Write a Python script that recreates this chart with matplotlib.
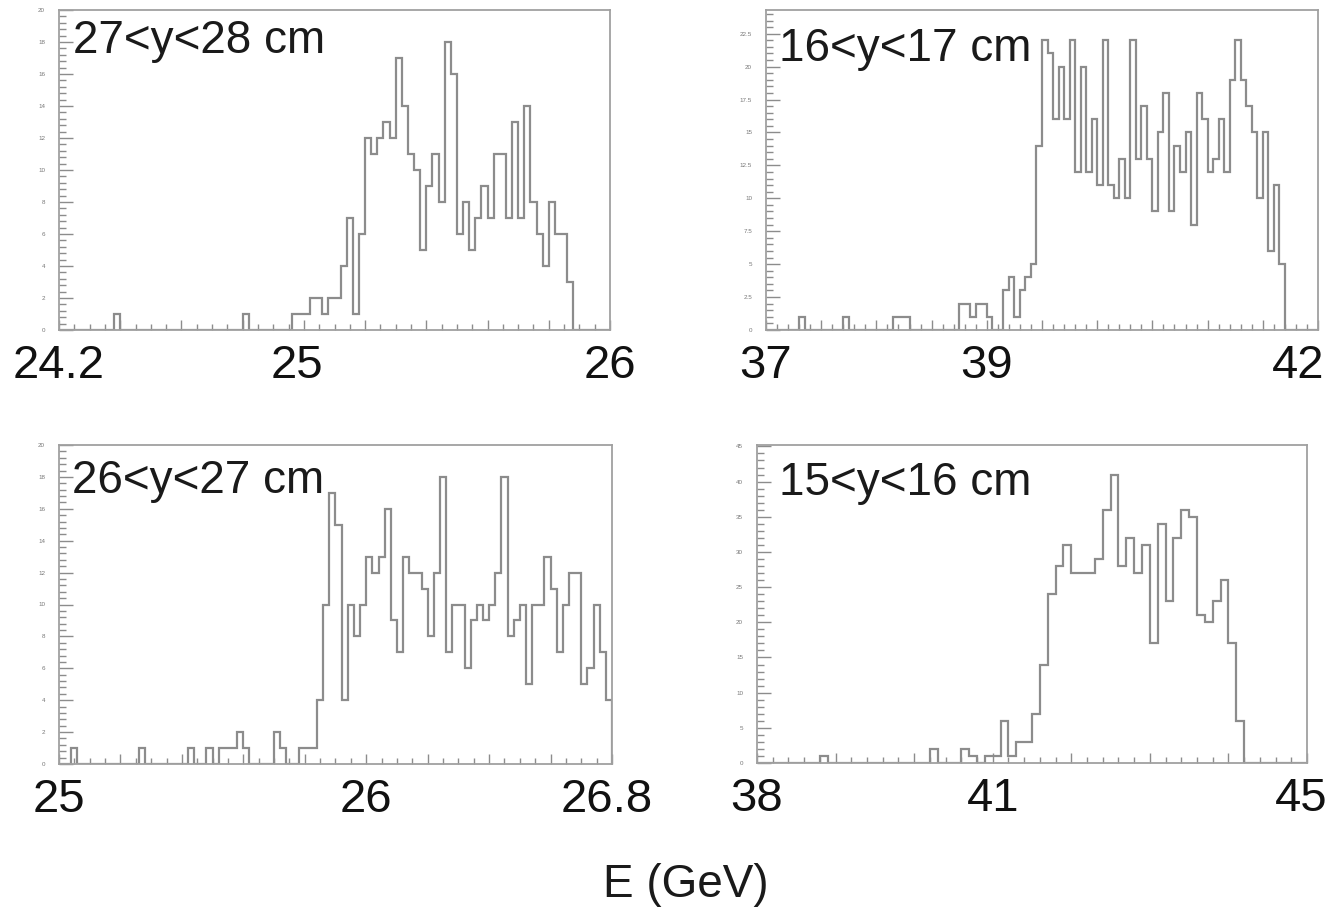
import matplotlib
matplotlib.use('Agg')
import matplotlib.pyplot as plt
from matplotlib.ticker import MultipleLocator, FixedLocator, FuncFormatter
import numpy as np

plt.rcParams['font.family'] = ['Liberation Sans', 'DejaVu Sans']

# energy histograms, one per y slice (bin contents, left to right)
counts_27_28 = [
    0, 0, 0, 0, 0, 0, 0, 0, 0, 1,
    0, 0, 0, 0, 0, 0, 0, 0, 0, 0,
    0, 0, 0, 0, 0, 0, 0, 0, 0, 0,
    1, 0, 0, 0, 0, 0, 0, 0, 1, 1,
    1, 2, 2, 1, 2, 2, 4, 7, 1, 6,
    12, 11, 12, 13, 12, 17, 14, 11, 10, 5,
    9, 11, 8, 18, 16, 6, 8, 5, 7, 9,
    7, 11, 11, 7, 13, 7, 14, 8, 6, 4,
    8, 6, 6, 3, 0, 0, 0, 0, 0, 0,
]
counts_16_17 = [
    0, 0, 0, 0, 0, 0, 1, 0, 0, 0,
    0, 0, 0, 0, 1, 0, 0, 0, 0, 0,
    0, 0, 0, 1, 1, 1, 0, 0, 0, 0,
    0, 0, 0, 0, 0, 2, 2, 1, 2, 2,
    1, 0, 0, 3, 4, 1, 3, 4, 5, 14,
    22, 21, 16, 20, 16, 22, 12, 20, 12, 16,
    11, 22, 11, 10, 13, 10, 22, 13, 17, 13,
    9, 15, 18, 9, 14, 12, 15, 8, 18, 16,
    12, 13, 16, 12, 19, 22, 19, 17, 15, 10,
    15, 6, 11, 5, 0, 0, 0, 0, 0, 0,
]
counts_26_27 = [
    0, 0, 1, 0, 0, 0, 0, 0, 0, 0,
    0, 0, 0, 1, 0, 0, 0, 0, 0, 0,
    0, 1, 0, 0, 1, 0, 1, 1, 1, 2,
    1, 0, 0, 0, 0, 2, 1, 0, 0, 1,
    1, 1, 4, 10, 17, 15, 4, 10, 8, 10,
    13, 12, 13, 16, 9, 7, 13, 12, 12, 11,
    8, 12, 18, 7, 10, 10, 6, 9, 10, 9,
    10, 12, 18, 8, 9, 10, 5, 10, 10, 13,
    11, 7, 10, 12, 12, 5, 6, 10, 7, 4,
]
counts_15_16 = [
    0, 0, 0, 0, 0, 0, 0, 0, 1, 0,
    0, 0, 0, 0, 0, 0, 0, 0, 0, 0,
    0, 0, 2, 0, 0, 0, 2, 1, 0, 1,
    1, 6, 1, 3, 3, 7, 14, 24, 28, 31,
    27, 27, 27, 29, 36, 41, 28, 32, 27, 31,
    17, 34, 23, 32, 36, 35, 21, 20, 23, 26,
    17, 6, 0, 0, 0, 0, 0, 0, 0, 0,
]

slice_names = ['27<y<28 cm', '16<y<17 cm', '26<y<27 cm', '15<y<16 cm']
e_ranges = [(24.2, 26.0), (37.0, 42.0), (25.0, 26.8), (38.0, 45.0)]
e_labels = [[24.2, 25, 26], [37, 39, 42], [25, 26, 26.8], [38, 41, 45]]
y_max = [20, 24.3, 20, 45.2]

W, H = 1339, 911
fig = plt.figure(figsize=(W / 100, H / 100), dpi=100)

# pad boxes in pixels: left, top, right, bottom
boxes = [(59, 10, 610, 330), (766, 10, 1318, 330),
         (59, 445, 612, 764), (757, 445, 1307, 763)]
x_steps = [(0.2, 0.05), (0.5, 0.1), (0.2, 0.05), (1.0, 0.2)]
y_steps = [(2, 0.4), (2.5, 0.5), (2, 0.4), (5, 1)]
text_pos = [(0.026, 0.972), (0.023, 0.946), (0.024, 0.956), (0.040, 0.95)]
# horizontal nudge of the energy numbers, in points
label_dx = [[0, -5, 0], [0, 0, -14], [0, 0, -4], [0, 0, -4]]
all_counts = [counts_27_28, counts_16_17, counts_26_27, counts_15_16]

grey = '#8c8c8c'

for i in range(4):
    l, t, r, b = boxes[i]
    ax = fig.add_axes([l / W, 1 - b / H, (r - l) / W, (b - t) / H])
    lo, hi = e_ranges[i]
    vals = np.array(all_counts[i])
    edges = np.linspace(lo, hi, len(vals) + 1)
    ax.stairs(vals, edges, color=grey, lw=1.6)

    ax.set_xlim(lo, hi)
    ax.set_ylim(0, y_max[i])
    for s in ax.spines.values():
        s.set_color('#a0a0a0')
        s.set_linewidth(1.3)

    # x axis: ticks everywhere, numbers written under a few energies
    maj, mnr = x_steps[i]
    ax.xaxis.set_major_locator(FixedLocator(np.round(np.arange(lo, hi + 1e-6, maj), 4)))
    ax.xaxis.set_minor_locator(MultipleLocator(mnr))
    ax.tick_params(axis='x', which='major', direction='in', length=7, width=1,
                   color=grey, labelbottom=False)
    ax.tick_params(axis='x', which='minor', direction='in', length=4, width=1, color=grey)
    for v, dx in zip(e_labels[i], label_dx[i]):
        ax.annotate('%g' % v, xy=(v, 0), xycoords=('data', 'axes fraction'),
                    xytext=(dx, -10), textcoords='offset points',
                    ha='center', va='top', fontsize=34, color='#111111',
                    annotation_clip=False)

    # y axis: small ROOT-style labels
    ymaj, ymnr = y_steps[i]
    ax.yaxis.set_major_locator(MultipleLocator(ymaj))
    ax.yaxis.set_minor_locator(MultipleLocator(ymnr))
    ax.yaxis.set_major_formatter(FuncFormatter(lambda v, p: '%g' % v))
    ax.tick_params(axis='y', which='major', direction='in', length=10, width=1,
                   color=grey, labelsize=4.5, labelcolor='#777777', pad=10)
    ax.tick_params(axis='y', which='minor', direction='in', length=5, width=1, color=grey)

    tx, ty = text_pos[i]
    ax.text(tx, ty, slice_names[i], transform=ax.transAxes, ha='left', va='top',
            fontsize=33, color='#1a1a1a')

fig.text(686 / W, 1 - 885 / H, 'E (GeV)', ha='center', va='center', fontsize=33,
         color='#1a1a1a')

fig.savefig('out.png', dpi=100)
